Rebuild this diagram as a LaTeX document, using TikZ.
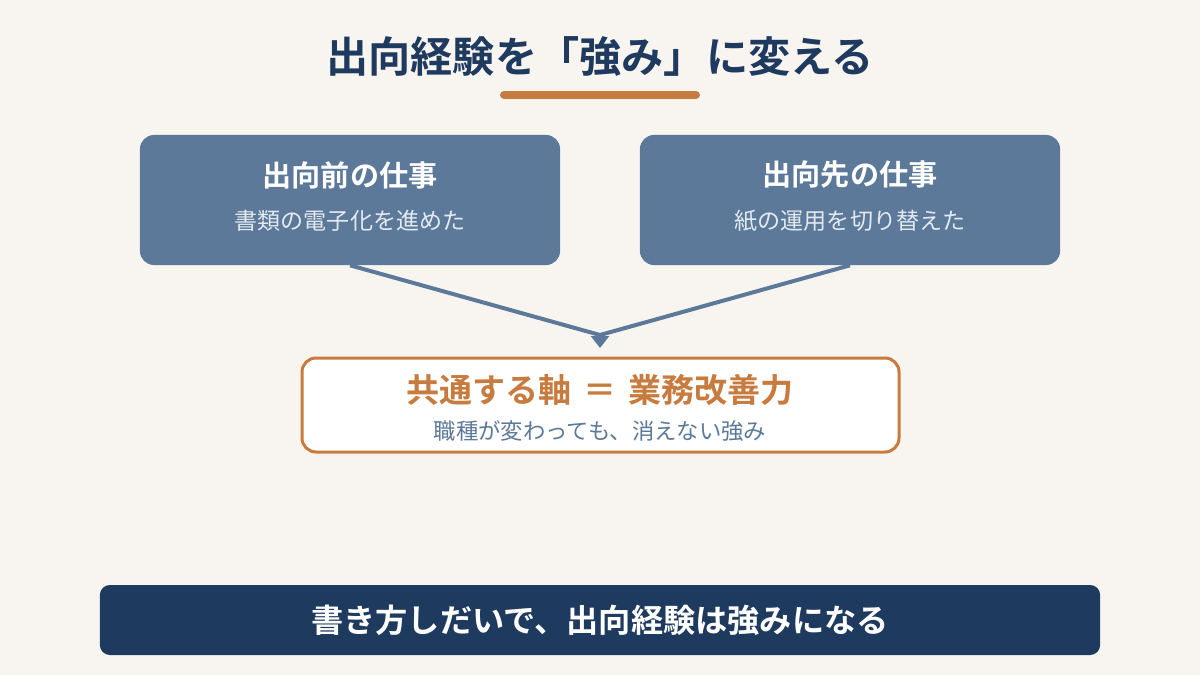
\documentclass[tikz,border=0pt]{standalone}
\usepackage{fontspec}
\usetikzlibrary{arrows.meta}
\newfontfamily\jp{Noto Sans CJK JP}[BoldFont={Noto Sans CJK JP Bold}]
\definecolor{bgcream}{HTML}{F8F5F0}
\definecolor{navy}{HTML}{1F3A5F}
\definecolor{slate}{HTML}{5C7999}
\definecolor{paleslate}{HTML}{E3E9F0}
\definecolor{copper}{HTML}{C87B3E}
\tikzset{
	card/.style={fill=slate, rounded corners=14*0.025cm, minimum width=10.5cm, minimum height=3.25cm},
	cardtitle/.style={text=white, font=\jp\bfseries\fontsize{20.7}{24}\selectfont},
	cardtext/.style={text=paleslate, font=\jp\fontsize{16.4}{19}\selectfont},
	link/.style={draw=slate, line width=4*0.025cm},
}
\begin{document}
\begin{tikzpicture}[x=0.025cm,y=-0.025cm]
				\fill[bgcream] (0,0) rectangle (1200,675);
				\useasboundingbox (0,0) rectangle (1200,675);

				\node (title) at (600,57) [text=navy, font=\jp\bfseries\fontsize{30}{34}\selectfont] {出向経験を「強み」に変える};
				\draw[copper, line width=8*0.025cm, line cap=round] (504,95) -- (696,95);

				\node[card] (pre) at (350,200) {};
				\node[card] (post) at (850,200) {};
				\node at (350,175)[cardtitle] (pretitle) {出向前の仕事};
				\node at (350,221)[cardtext] (pretext) {書類の電子化を進めた};
				\node at (850,175)[cardtitle] (posttitle) {出向先の仕事};
				\node at (850,221)[cardtext] (posttext) {紙の運用を切り替えた};

				\coordinate (merge) at (600,335);
				\draw[link, line join=round] (pre.south) -- (merge) -- (post.south);
				\draw[link, -{Triangle[length=12*0.025cm, width=18*0.025cm]}] (merge) -- (600,348);

				\node[fill=white, draw=copper, line width=3*0.025cm, rounded corners=14*0.025cm, minimum width=597*0.025cm, minimum height=94*0.025cm] (axis) at (600.5,405) {};
				\node at (600,390)[text=copper, font=\jp\bfseries\fontsize{23.5}{27}\selectfont] (axistitle) {共通する軸\hspace{0.35em}＝\hspace{0.35em}業務改善力};
				\node at (600,431)[text=slate, font=\jp\fontsize{15.9}{19}\selectfont] (axistext) {職種が変わっても、消えない強み};

				\node[fill=navy, rounded corners=10*0.025cm, minimum width=25cm, minimum height=70*0.025cm] (banner) at (600,620) {};
				\node at (600,620)[text=white, font=\jp\bfseries\fontsize{22.9}{26}\selectfont] (bannertext) {書き方しだいで、出向経験は強みになる};
			\end{tikzpicture}
\end{document}
